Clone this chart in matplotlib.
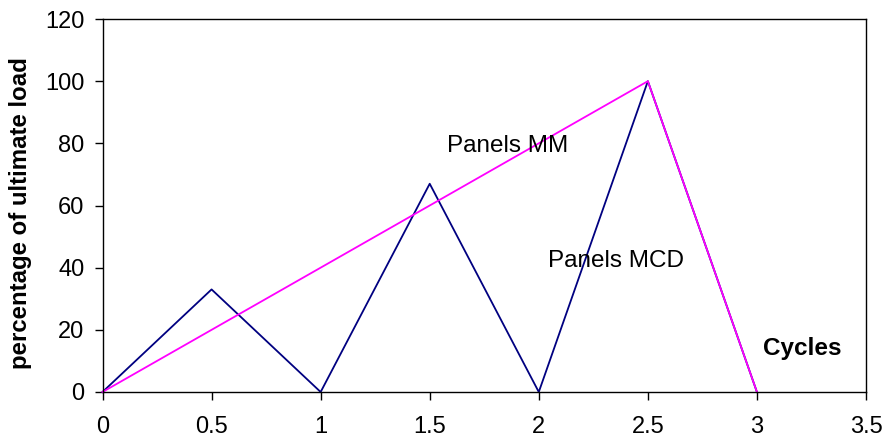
import matplotlib
matplotlib.use("Agg")
import matplotlib.pyplot as plt

plt.rcParams['font.family'] = ['Liberation Sans', 'DejaVu Sans']

cycles_mcd = [0, 0.5, 1, 1.5, 2, 2.5, 3]
load_mcd = [0, 33, 0, 67, 0, 100, 0]
cycles_mm = [0, 2.5, 3]
load_mm = [0, 100, 0]

xticks = [0, 0.5, 1, 1.5, 2, 2.5, 3, 3.5]
xticklabels = ['0', '0.5', '1', '1.5', '2', '2.5', '3', '3.5']
yticks = [0, 20, 40, 60, 80, 100, 120]

fig = plt.figure(figsize=(8.87, 4.42), dpi=100)
ax = fig.add_axes([102.5/887, 1-392/442, (866-102.5)/887, (392-19)/442])

ax.plot(cycles_mcd, load_mcd, color='#000080', lw=1.3, clip_on=False)
ax.plot(cycles_mm, load_mm, color='#FF00FF', lw=1.3, clip_on=False)

ax.set_xlim(0, 3.5)
ax.set_ylim(0, 120)
ax.set_xticks(xticks)
ax.set_xticklabels(xticklabels)
ax.set_yticks(yticks)
ax.tick_params(direction='out', length=6, width=1, labelsize=17)
ax.tick_params(axis='y', pad=7)
ax.tick_params(axis='x', pad=11)
for s in ax.spines.values():
    s.set_linewidth(1)
    s.set_color('black')

ax.set_ylabel('percentage of ultimate load', fontsize=17.3, fontweight='bold')
ax.yaxis.set_label_coords(-0.092, 0.48)

ax.text(1.58, 79, 'Panels MM', fontsize=17.5, ha='left', va='center')
ax.text(2.04, 42, 'Panels MCD', fontsize=17.5, ha='left', va='center')
ax.text(3.03, 14, 'Cycles', fontsize=17.5, fontweight='bold', ha='left', va='center')

fig.savefig('out.png', dpi=100)
